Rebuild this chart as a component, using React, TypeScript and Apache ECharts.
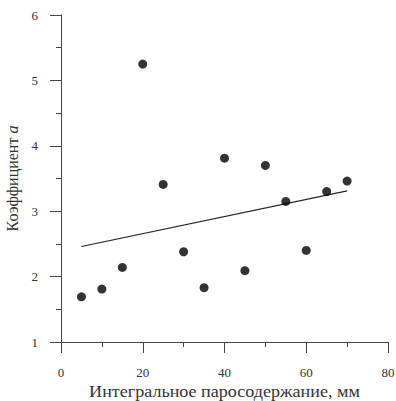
import React, { useEffect, useRef } from "react";
import * as echarts from "echarts";

const xValues = [5, 10, 15, 20, 25, 30, 35, 40, 45, 50, 55, 60, 65, 70];
const yValues = [1.69, 1.81, 2.14, 5.25, 3.41, 2.38, 1.83, 3.81, 2.09, 3.7, 3.15, 2.4, 3.3, 3.46];
const trendX = [5, 70];
const trendY = [2.46, 3.31];
const xAxisTitle = "Интегральное паросодержание, мм";
const yAxisTitle = "Коэффициент {i|a}";

const FONT = "Liberation Serif";
const TEXT = "#333";
const AXIS = "#444";

export default function App() {
  const ref = useRef<HTMLDivElement>(null);
  useEffect(() => {
    if (!ref.current) return;
    const chart = echarts.init(ref.current, null, { renderer: "svg" });
    const axisCommon = {
      axisLine: { show: true, lineStyle: { color: AXIS, width: 1 } },
      axisTick: { show: true, inside: false, length: 11, lineStyle: { color: AXIS } },
      minorTick: { show: true, splitNumber: 2, length: 5, lineStyle: { color: AXIS } },
      splitLine: { show: false },
      minorSplitLine: { show: false },
    };
    chart.setOption({
      animation: false,
      backgroundColor: "#fff",
      textStyle: { fontFamily: FONT },
      grid: { left: 61, right: 8, top: 15, bottom: 59, containLabel: false, outerBoundsMode: "none" },
      graphic: [
        {
          type: "text",
          x: 224.5,
          y: 392,
          scaleX: 1.13,
          style: {
            text: xAxisTitle,
            fontFamily: FONT,
            fontSize: 16,
            fill: TEXT,
            align: "center",
            verticalAlign: "middle",
          },
        },
      ],
      xAxis: {
        type: "value",
        min: 0,
        max: 80,
        interval: 20,
        ...axisCommon,
        axisLabel: { color: TEXT, fontFamily: FONT, fontSize: 13, margin: 24 },
      },
      yAxis: {
        type: "value",
        min: 1,
        max: 6,
        interval: 1,
        ...axisCommon,
        axisLabel: { color: TEXT, fontFamily: FONT, fontSize: 13, margin: 23 },
        name: yAxisTitle,
        nameLocation: "middle",
        nameGap: 38,
        nameRotate: 90,
        nameTextStyle: {
          color: TEXT,
          fontFamily: FONT,
          fontSize: 16,
          rich: { i: { fontStyle: "italic", fontFamily: FONT, fontSize: 16, color: TEXT } },
        },
      },
      series: [
        {
          type: "line",
          data: trendX.map((x, i) => [x, trendY[i]]),
          showSymbol: false,
          symbol: "none",
          lineStyle: { color: "#222", width: 1.2 },
          z: 1,
        },
        {
          type: "scatter",
          data: xValues.map((x, i) => [x, yValues[i]]),
          symbol: "circle",
          symbolSize: 9,
          itemStyle: { color: "#000" },
          z: 2,
        },
      ],
    });
    return () => chart.dispose();
  }, []);
  return <div ref={ref} style={{ width: 396, height: 401, position: "absolute", left: 0, top: 0 }} />;
}
